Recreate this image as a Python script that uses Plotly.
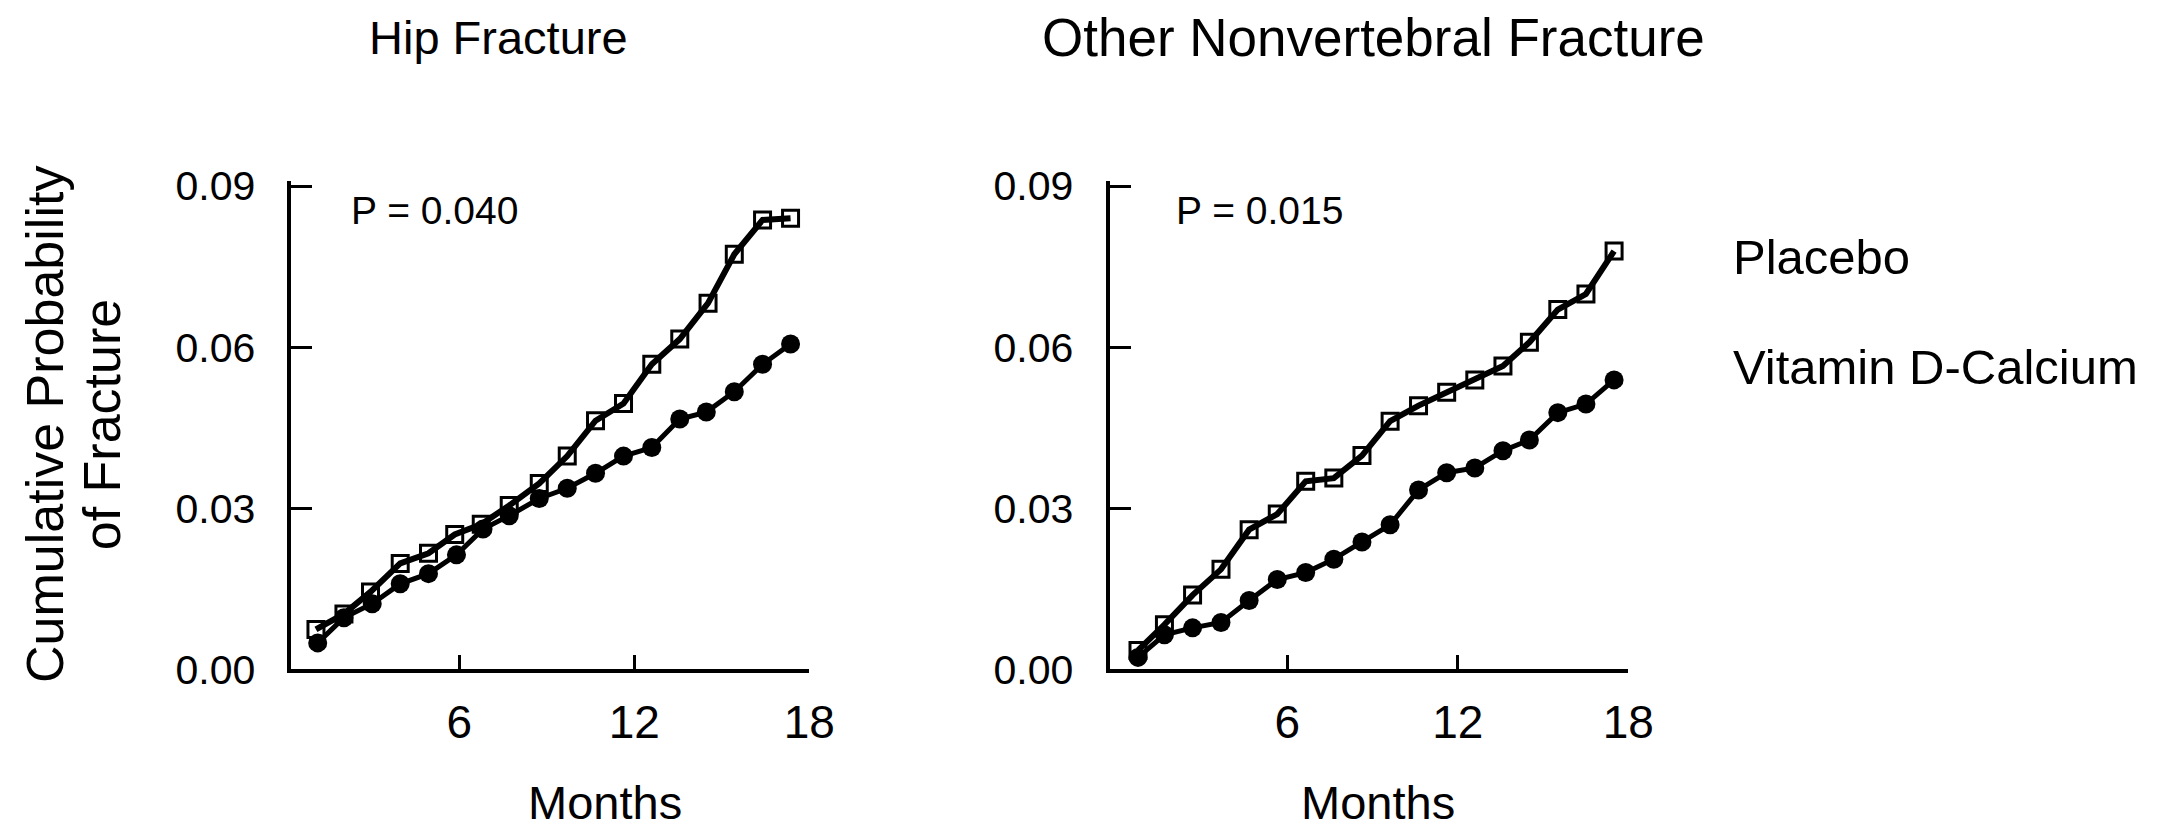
import plotly.graph_objects as go

# ---------------- data ----------------
hip_months_placebo = [1.08, 2.04, 2.95, 3.97, 4.94, 5.84, 6.75, 7.71, 8.74, 9.70,
                      10.67, 11.63, 12.60, 13.56, 14.53, 15.43, 16.40, 17.36]
hip_placebo = [0.0074, 0.0103, 0.0144, 0.0197, 0.0216, 0.0251, 0.0270, 0.0305, 0.0346,
               0.0397, 0.0463, 0.0495, 0.0568, 0.0615, 0.0682, 0.0773, 0.0837, 0.0840]
hip_months_vitd = [1.14, 2.04, 3.01, 3.97, 4.94, 5.90, 6.81, 7.71, 8.74, 9.70,
                   10.67, 11.63, 12.60, 13.56, 14.47, 15.43, 16.40, 17.36]
hip_vitd = [0.0049, 0.0096, 0.0122, 0.0159, 0.0178, 0.0213, 0.0261, 0.0286, 0.0318,
            0.0337, 0.0365, 0.0397, 0.0413, 0.0466, 0.0479, 0.0517, 0.0568, 0.0606]

onf_months = [0.75, 1.68, 2.67, 3.67, 4.66, 5.65, 6.65, 7.64, 8.63, 9.62,
              10.62, 11.61, 12.60, 13.59, 14.52, 15.52, 16.51, 17.50]
onf_placebo = [0.0035, 0.0083, 0.0138, 0.0186, 0.0260, 0.0289, 0.0350, 0.0356, 0.0398,
               0.0462, 0.0491, 0.0516, 0.0539, 0.0565, 0.0609, 0.0670, 0.0699, 0.0779]
onf_vitd = [0.0022, 0.0064, 0.0077, 0.0087, 0.0128, 0.0167, 0.0180, 0.0205, 0.0237,
            0.0269, 0.0334, 0.0366, 0.0375, 0.0407, 0.0427, 0.0478, 0.0494, 0.0539]

panel_titles = ["Hip Fracture", "Other Nonvertebral Fracture"]
p_values = ["P = 0.040", "P = 0.015"]
series_names = ["Placebo", "Vitamin D-Calcium"]
x_tick_vals = [6, 12, 18]
y_tick_vals = [0.00, 0.03, 0.06, 0.09]
y_axis_title = ["Cumulative Probability", "of Fracture"]
x_axis_title = "Months"

# ---------------- layout helpers ----------------
W, H = 2175, 835
FONT = "Liberation Sans, Arial, Helvetica, sans-serif"


def fx(px):
    return px / W


def fy(py):
    return 1 - py / H


fig = go.Figure()

placebo_style = dict(mode="lines+markers",
                     line=dict(color="black", width=6),
                     marker=dict(symbol="square-open", size=16, color="black",
                                 line=dict(width=3, color="black")))
vitd_style = dict(mode="lines+markers",
                  line=dict(color="black", width=5),
                  marker=dict(symbol="circle", size=19, color="black"))

fig.add_trace(go.Scatter(x=hip_months_vitd, y=hip_vitd, name=series_names[1],
                         xaxis="x", yaxis="y", showlegend=False, **vitd_style))
fig.add_trace(go.Scatter(x=hip_months_placebo, y=hip_placebo, name=series_names[0],
                         xaxis="x", yaxis="y", showlegend=False, **placebo_style))
fig.add_trace(go.Scatter(x=onf_months, y=onf_vitd, name=series_names[1],
                         xaxis="x2", yaxis="y2", showlegend=False, **vitd_style))
fig.add_trace(go.Scatter(x=onf_months, y=onf_placebo, name=series_names[0],
                         xaxis="x2", yaxis="y2", showlegend=False, **placebo_style))

y_dom = [fy(685), fy(172)]

xaxis_common = dict(tickvals=x_tick_vals, ticktext=[str(v) for v in x_tick_vals],
                    ticks="inside", ticklen=14, tickwidth=3, tickcolor="black",
                    showline=True, linecolor="black", linewidth=4,
                    showgrid=False, zeroline=False, mirror=False,
                    tickfont=dict(family=FONT, size=46, color="black"),
                    ticklabelstandoff=10, fixedrange=True)
yaxis_common = dict(tickvals=y_tick_vals, ticktext=[f"{v:.2f}" for v in y_tick_vals],
                    range=[0, 0.091], domain=y_dom,
                    ticks="inside", ticklen=21, tickwidth=3, tickcolor="black",
                    showline=True, linecolor="black", linewidth=4,
                    showgrid=False, zeroline=False,
                    tickfont=dict(family=FONT, size=41, color="black"),
                    ticklabelstandoff=24, fixedrange=True)

fig.update_layout(
    width=W, height=H,
    margin=dict(l=0, r=0, t=0, b=0),
    paper_bgcolor="white", plot_bgcolor="white",
    showlegend=False,
    xaxis=dict(domain=[fx(295), fx(819)], range=[0.24, 18], anchor="y", **xaxis_common),
    yaxis=dict(anchor="x", **yaxis_common),
    xaxis2=dict(domain=[fx(1123), fx(1648)], range=[-0.25, 18], anchor="y2", **xaxis_common),
    yaxis2=dict(anchor="x2", **yaxis_common),
)


def text_ann(text, x, y, size, xanchor="center", angle=0):
    return dict(text=text, x=fx(x), y=fy(y), xref="paper", yref="paper",
                showarrow=False, xanchor=xanchor, yanchor="middle", textangle=angle,
                font=dict(family=FONT, size=size, color="black"))


ann = [
    # panel titles
    text_ann(panel_titles[0], 505, 22, 47),
    text_ann(panel_titles[1], 1390, 22, 53),
    # p-values
    text_ann(p_values[0], 440, 203, 39),
    text_ann(p_values[1], 1275, 203, 39),
    # x axis titles
    text_ann(x_axis_title, 612, 825, 47),
    text_ann(x_axis_title, 1395, 825, 47),
    # y axis title (two lines, rotated)
    text_ann(y_axis_title[0], 46, 428, 52, angle=-90),
    text_ann(y_axis_title[1], 104, 428, 52, angle=-90),
    # legend labels
    text_ann(series_names[0], 1752, 252, 49, xanchor="left"),
    text_ann(series_names[1], 1752, 368, 49, xanchor="left"),
]

fig.update_layout(annotations=ann)

fig.write_html("out.html")
